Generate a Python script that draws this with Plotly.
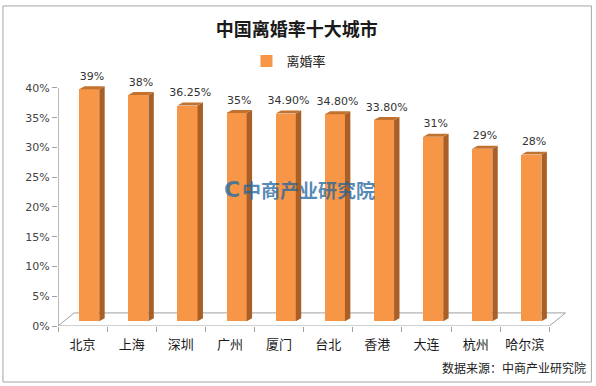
import plotly.graph_objects as go

cities = ["北京", "上海", "深圳", "广州", "厦门", "台北", "香港", "大连", "杭州", "哈尔滨"]
rates = [39, 38, 36.25, 35, 34.90, 34.80, 33.80, 31, 29, 28]
labels = ["39%", "38%", "36.25%", "35%", "34.90%", "34.80%", "33.80%", "31%", "29%", "28%"]
ytick_vals = [0, 5, 10, 15, 20, 25, 30, 35, 40]
ytick_text = ["0%", "5%", "10%", "15%", "20%", "25%", "30%", "35%", "40%"]

FRONT = "#F79646"
SIDE = "#A95F25"
TOP = "#C2722F"
GRAY = "#A0A0A0"
CJK = "Noto Sans CJK SC"
NUM = "DejaVu Sans, Noto Sans CJK SC"

# 3D look parameters (data units)
base = 0.8      # bars sit in the middle of the floor depth
off = 0.135     # front face centre offset inside category
w = 0.41        # front face width
dx = 0.11       # depth in x
dy = 0.5        # depth in y
fdx, fdy = 0.33, 2.2   # floor depth

xs = list(range(len(cities)))
xc = [x + off for x in xs]

fig = go.Figure()

# floor + axis lines (unclipped shapes)
fig.add_shape(type="path",
              path=f"M -0.5 0 L {-0.5+fdx} {fdy} L {9.5+fdx} {fdy} L 9.5 0 Z",
              xref="x", yref="y", line=dict(color=GRAY, width=1), layer="below")
fig.add_shape(type="line", x0=-0.5, x1=-0.5, y0=0, y1=40, xref="x", yref="y",
              line=dict(color=GRAY, width=1.5))

# front faces
fig.add_trace(go.Bar(x=xc, y=rates, base=base, width=w, name="离婚率",
                     marker=dict(color=FRONT, line=dict(width=0)),
                     showlegend=True, hoverinfo="skip"))

# side faces and top faces built from the values
sx, sy, tx, ty = [], [], [], []
for x, v in zip(xc, rates):
    L, R = x - w / 2, x + w / 2
    t = base + v
    sx += [R, R + dx, R + dx, R, R, None]
    sy += [base, base + dy, t + dy, t, base, None]
    tx += [L, L + dx, R + dx, R, L, None]
    ty += [t, t + dy, t + dy, t, t, None]
fig.add_trace(go.Scatter(x=sx, y=sy, mode="lines", fill="toself", fillcolor=SIDE,
                         line=dict(width=0, color=SIDE), showlegend=False, hoverinfo="skip"))
fig.add_trace(go.Scatter(x=tx, y=ty, mode="lines", fill="toself", fillcolor=TOP,
                         line=dict(width=0, color=TOP), showlegend=False, hoverinfo="skip"))

# value labels
fig.add_trace(go.Scatter(x=[x + dx / 2 for x in xc], y=[base + v + dy + 0.6 for v in rates],
                         mode="text", text=labels, textposition="top center",
                         textfont=dict(size=11, color="#333333", family=NUM),
                         cliponaxis=False, showlegend=False, hoverinfo="skip"))

fig.update_layout(
    width=596, height=386,
    margin=dict(l=58, r=27.4, t=82, b=60),
    paper_bgcolor="white", plot_bgcolor="white",
    font=dict(family=CJK, color="#222222"),
    title=dict(text="<b>中国离婚率十大城市</b>", x=0.498, xanchor="center",
               y=1 - 30 / 386, yanchor="middle", yref="container",
               font=dict(size=18, color="#1a1a1a", family=CJK)),
    showlegend=True,
    legend=dict(orientation="h", x=0.452, xanchor="center", y=1.086, yanchor="middle",
                font=dict(size=13, color="#222222", family=CJK),
                itemwidth=30, bgcolor="rgba(0,0,0,0)"),
    bargap=0,
)

fig.update_xaxes(range=[-0.5, 9.9], tickmode="array", tickvals=xs, ticktext=cities,
                 ticks="", showgrid=False, zeroline=False, showline=False,
                 ticklabelstandoff=9,
                 tickfont=dict(size=13, color="#1a1a1a", family=CJK),
                 minor=dict(tickmode="array", tickvals=[k - 0.5 for k in range(11)],
                            ticks="outside", ticklen=5, tickcolor=GRAY, showgrid=False))
fig.update_yaxes(range=[0, 41], tickmode="array", tickvals=ytick_vals, ticktext=ytick_text,
                 ticks="outside", ticklen=5, tickcolor=GRAY, showgrid=False,
                 zeroline=False, showline=False,
                 tickfont=dict(size=11, color="#444444", family=NUM))

# watermark
fig.add_annotation(text="<b>C</b>", xref="paper", yref="paper",
                   x=(222 - 58) / 510.6, y=(326 - 190) / 243.95, showarrow=False,
                   font=dict(size=22, color="rgba(30,110,170,0.8)", family=NUM))
fig.add_annotation(text="<b>中商产业研究院</b>", xref="paper", yref="paper",
                   x=(308 - 58) / 510.6, y=(326 - 190) / 243.95, showarrow=False,
                   font=dict(size=19, color="rgba(30,100,160,0.75)", family=CJK))

# source note
fig.add_annotation(text="数据来源：中商产业研究院", xref="paper", yref="paper",
                   x=(588 - 58) / 510.6, xanchor="right", y=(326 - 367) / 243.95,
                   yanchor="middle", showarrow=False,
                   font=dict(size=12, color="#222222", family=CJK))

# outer border
fig.add_shape(type="rect", xref="paper", yref="paper",
              x0=(3 - 58) / 510.6, x1=(591 - 58) / 510.6,
              y0=(326 - 382) / 243.95, y1=(326 - 6) / 243.95,
              line=dict(color="#A6A6A6", width=1))

fig.write_html("out.html")
